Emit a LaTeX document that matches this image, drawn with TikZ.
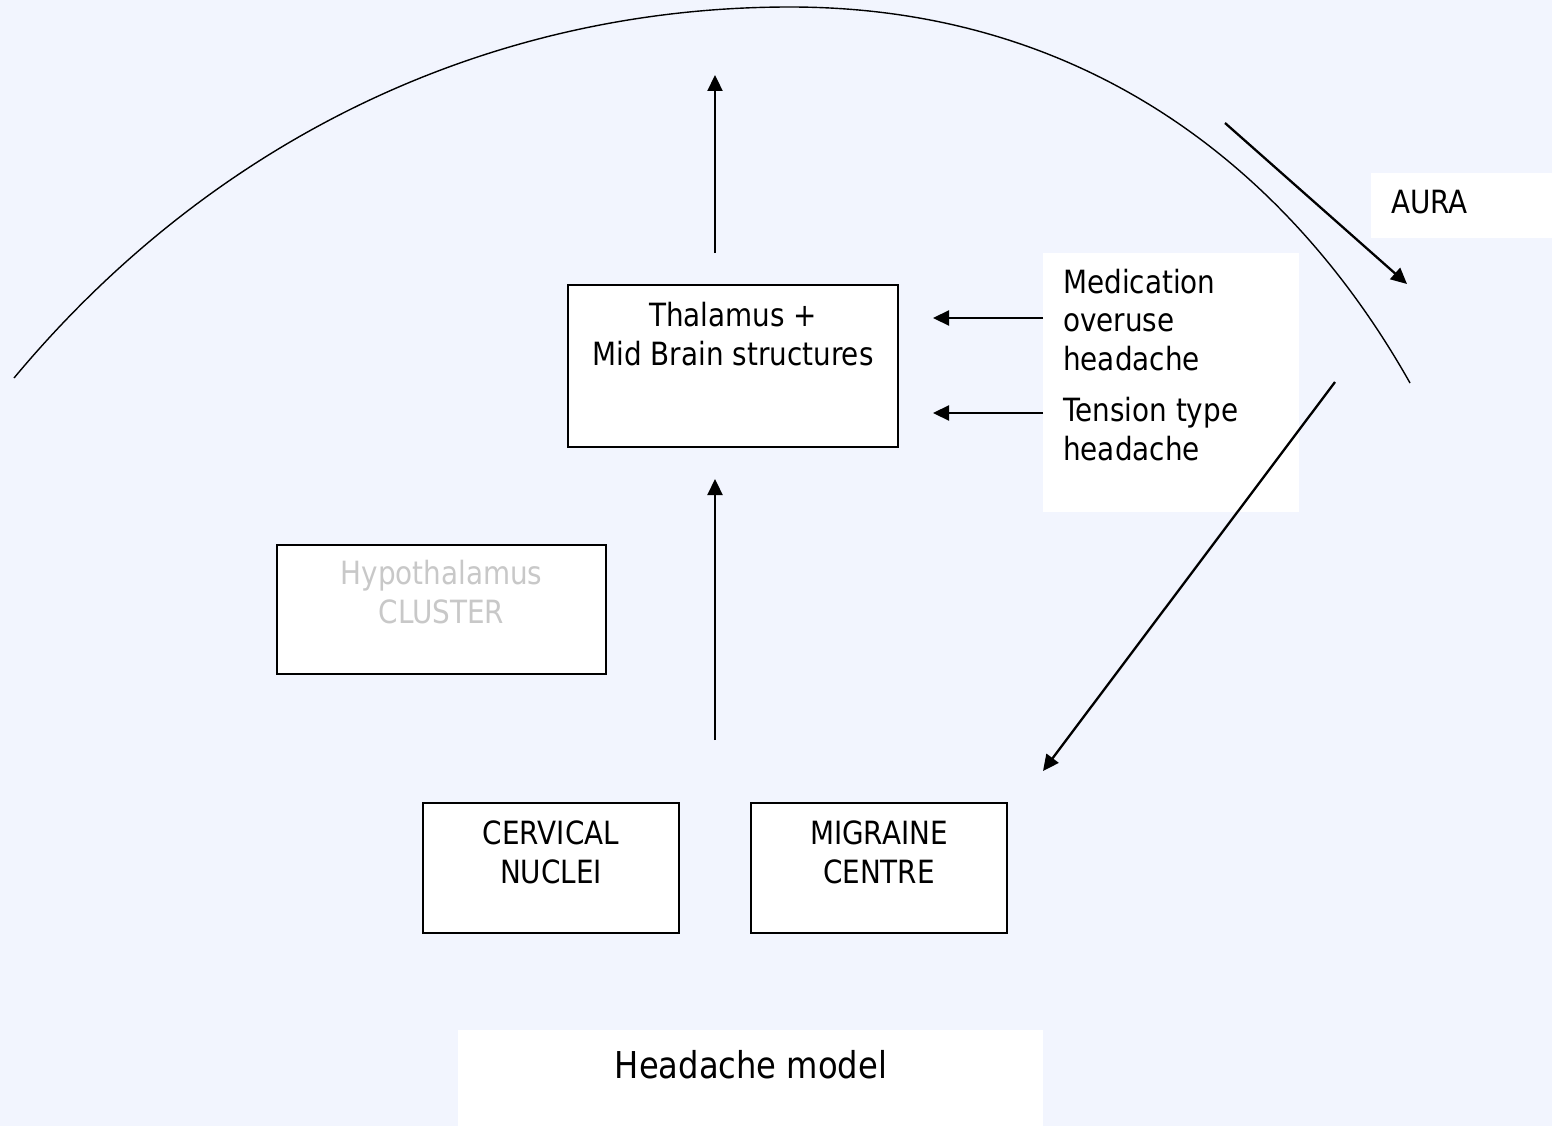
\documentclass[tikz,border=0pt]{standalone}
\usepackage{fontspec}
\setmainfont{DejaVu Sans}[FakeStretch=0.87]
\usetikzlibrary{arrows.meta}
\definecolor{bg}{RGB}{242,245,254}
\definecolor{hypo}{RGB}{200,200,200}
\begin{document}
\begin{tikzpicture}[x=1pt,y=-1pt,
  box/.style={draw=black, line width=1.8pt, fill=white, inner sep=0pt},
  whitebox/.style={fill=white, inner sep=0pt},
  txt/.style={font=\fontsize{32}{38.5}\selectfont, inner sep=0pt, align=center},
  conn/.style={line width=2.3pt, -{Triangle[length=16pt,width=15pt]}},
  arcline/.style={line width=1.4pt}]
\fill[bg] (0,0) rectangle (1552,1126);
\useasboundingbox (0,0) rectangle (1552,1126);

% big arc
\draw[arcline] (14,378) .. controls (214,138) and (490,7) .. (790,7)
  .. controls (1090,7) and (1292.4,174.2) .. (1410,383);

% boxes
\node[box, minimum width=330pt, minimum height=162pt] (thal) at (733,366) {};
\node[box, minimum width=329pt, minimum height=129pt] (hypo) at (441.5,609.5) {};
\node[box, minimum width=256pt, minimum height=130pt] (cerv) at (551,868) {};
\node[box, minimum width=256pt, minimum height=130pt] (migr) at (879,868) {};
\node[whitebox, minimum width=256pt, minimum height=259pt] (medbox) at (1171,382.5) {};
\node[whitebox, minimum width=181pt, minimum height=65pt] (aurabox) at (1461.5,205.5) {};
\node[whitebox, minimum width=585pt, minimum height=96pt] (titlebox) at (750.5,1078) {};

% texts (base anchor = baseline of the last line)
\node[txt, anchor=base] (thaltxt) at (733,365) {Thalamus +\\Mid Brain structures};
\node[txt, anchor=base, text=hypo] (hypotxt) at (441.5,623) {Hypothalamus\\CLUSTER};
\node[txt, anchor=base] (cervtxt) at (551,883) {CERVICAL\\NUCLEI};
\node[txt, anchor=base] (migrtxt) at (879,883) {MIGRAINE\\CENTRE};
\node[txt, anchor=base west, align=left] (medtxt) at (1063,370) {Medication\\overuse\\headache};
\node[txt, anchor=base west, align=left] (tenstxt) at (1063,460) {Tension type\\headache};
\node[txt, anchor=base west] (auratxt) at (1391,213) {AURA};
\node[txt, anchor=base, font=\fontsize{37}{44}\selectfont] (titletxt) at (751,1078) {Headache model};

% connectors
\coordinate (a1s) at (715,253); \coordinate (a1e) at (715,75);
\coordinate (a2s) at (715,740); \coordinate (a2e) at (715,479);
\coordinate (h1s) at (1043,318); \coordinate (h1e) at (933,318);
\coordinate (h2s) at (1043,413); \coordinate (h2e) at (933,413);
\coordinate (aus) at (1225,123); \coordinate (aue) at (1407,284);
\coordinate (ds) at (1335,382); \coordinate (de) at (1043,771);
\draw[conn] (a1s) -- (a1e);
\draw[conn] (a2s) -- (a2e);
\draw[conn] (h1s) -- (h1e);
\draw[conn] (h2s) -- (h2e);
\draw[conn] (aus) -- (aue);
\draw[conn] (ds) -- (de);
\end{tikzpicture}
\end{document}
